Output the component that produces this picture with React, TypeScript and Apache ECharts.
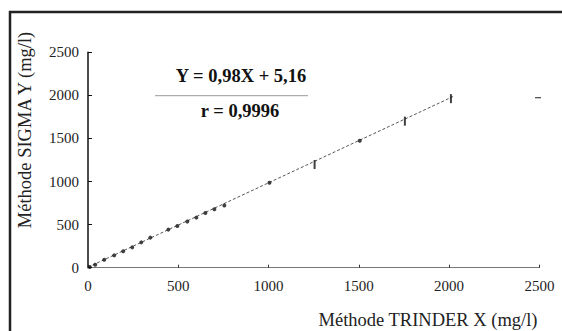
import React, { useEffect, useRef } from "react";
import * as echarts from "echarts";

const xTicks = [0, 500, 1000, 1500, 2000, 2500];
const pointX = [10, 40, 90, 145, 195, 245, 295, 345, 445, 495, 550, 600, 650, 700, 755, 1005, 1505];
const pointY = [8, 35, 93, 143, 190, 236, 294, 349, 442, 485, 535, 581, 636, 678, 721, 985, 1473];
const barX = [1255, 1755, 2010];
const barY = [1198, 1701, 1962];
const slope = 0.98;
const intercept = 5.16;
const lineRange = [0, 2030];
const equationText = "Y = 0,98X + 5,16";
const rText = "r = 0,9996";
const xTitle = "Méthode TRINDER X (mg/l)";
const yTitle = "Méthode SIGMA Y (mg/l)";

const FONT = "Liberation Serif";

export default function App() {
  const ref = useRef<HTMLDivElement>(null);
  useEffect(() => {
    if (!ref.current) return;
    const chart = echarts.init(ref.current, null, { renderer: "svg" });
    const axisLabel = {
      fontFamily: FONT,
      fontSize: 15,
      color: "#222",
      formatter: (v: number) => String(v),
    };
    chart.setOption({
      animation: false,
      backgroundColor: "#fff",
      grid: { left: 88, right: 22.6, top: 52.3, bottom: 63.3 },
      xAxis: {
        type: "value",
        min: xTicks[0],
        max: xTicks[xTicks.length - 1],
        interval: 500,
        axisLine: { lineStyle: { color: "#777", width: 1 } },
        axisTick: { inside: true, length: 3, lineStyle: { color: "#333" } },
        splitLine: { show: false },
        axisLabel: { ...axisLabel, margin: 11 },
      },
      yAxis: {
        type: "value",
        min: 0,
        max: 2500,
        interval: 500,
        axisLine: { show: true, lineStyle: { color: "#111", width: 1.5 } },
        axisTick: { show: true, inside: true, length: 4, lineStyle: { color: "#111" } },
        splitLine: { show: false },
        axisLabel: { ...axisLabel, margin: 9 },
      },
      series: [
        {
          type: "line",
          data: lineRange.map((x) => [x, slope * x + intercept]),
          symbol: "none",
          lineStyle: { color: "#444", width: 0.9, type: [3, 2] },
          z: 1,
        },
        {
          type: "scatter",
          data: pointX.map((x, i) => [x, pointY[i]]),
          symbol: "circle",
          symbolSize: 4,
          itemStyle: { color: "#111" },
          z: 3,
        },
        {
          type: "scatter",
          data: barX.map((x, i) => [x, barY[i]]),
          symbol: "rect",
          symbolSize: [2, 9],
          itemStyle: { color: "#111" },
          z: 3,
        },
      ],
      graphic: [
        {
          type: "rect",
          shape: { x: 10, y: 12, width: 560, height: 330 },
          style: { fill: "none", stroke: "#222", lineWidth: 2.5 },
          silent: true,
        },
        {
          type: "line",
          shape: { x1: 155, y1: 95.7, x2: 308, y2: 95.7 },
          style: { stroke: "#999", lineWidth: 1 },
        },
        {
          type: "line",
          shape: { x1: 535, y1: 97.7, x2: 541, y2: 97.7 },
          style: { stroke: "#444", lineWidth: 1.2 },
        },
        {
          type: "text",
          x: 241,
          y: 76,
          style: {
            text: equationText,
            font: `bold 18.5px ${FONT}`,
            fill: "#111",
            textAlign: "center",
            textVerticalAlign: "middle",
          },
        },
        {
          type: "text",
          x: 240,
          y: 111,
          style: {
            text: rText,
            font: `bold 18.5px ${FONT}`,
            fill: "#111",
            textAlign: "center",
            textVerticalAlign: "middle",
          },
        },
        {
          type: "text",
          x: 428,
          y: 320,
          style: {
            text: xTitle,
            font: `18.5px ${FONT}`,
            fill: "#222",
            textAlign: "center",
            textVerticalAlign: "middle",
          },
        },
        {
          type: "text",
          x: 25,
          y: 130,
          rotation: Math.PI / 2,
          style: {
            text: yTitle,
            font: `18.5px ${FONT}`,
            fill: "#222",
            textAlign: "center",
            textVerticalAlign: "middle",
          },
        },
      ],
    });
    return () => chart.dispose();
  }, []);
  return (
    <div
      ref={ref}
      style={{ position: "absolute", left: 0, top: 0, width: 562, height: 331 }}
    />
  );
}
